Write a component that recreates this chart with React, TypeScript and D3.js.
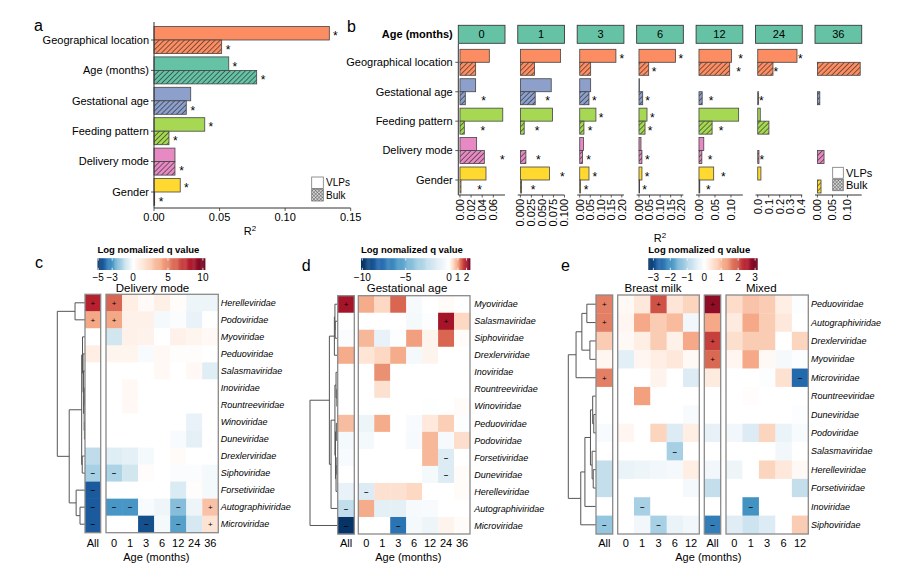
import React from "react";
import * as d3 from "d3";

const FONT = "'Liberation Sans', Arial, Helvetica, sans-serif";

// ---------------- Panel a data ----------------
const factorsA = ["Geographical location", "Age (months)", "Gestational age", "Feeding pattern", "Delivery mode", "Gender"];
const colorsA = ["#FC8D62", "#66C2A5", "#8DA0CB", "#A6D854", "#E78AC3", "#FFD92F"];
const aVLP = [0.1337, 0.057, 0.028, 0.0387, 0.016, 0.02];
const aBulk = [0.0516, 0.0783, 0.0246, 0.0114, 0.016, 0.0005];
const aStarVLP = [true, true, false, true, false, true];
const aStarBulk = [true, true, true, true, true, true];
const aTicks = [0, 0.05, 0.1, 0.15];

// ---------------- Panel b data ----------------
const factorsB = ["Geographical location", "Gestational age", "Feeding pattern", "Delivery mode", "Gender"];
const colorsB = ["#FC8D62", "#8DA0CB", "#A6D854", "#E78AC3", "#FFD92F"];
const ageFacets = ["0", "1", "3", "6", "12", "24", "36"];
const bVLP: (number | null)[][] = [
  [0.0528, 0.0282, 0.077, 0.03, 0.0468],
  [0.0913, 0.07, 0.073, null, 0.066],
  [0.172, 0.052, 0.077, 0.018, 0.044],
  [0.173, 0.002, 0.038, 0.0095, 0.014],
  [0.1016, null, 0.124, 0.015, 0.046],
  [0.358, null, 0.023, null, 0.029],
  [null, null, null, null, null],
];
const bBulk: (number | null)[][] = [
  [0.0282, 0.0096, 0.0078, 0.0438, 0.0018],
  [0.032, 0.0336, 0.0086, 0.0125, 0.0027],
  [0.052, 0.044, 0.02, 0.0135, 0.004],
  [0.046, 0.0176, 0.0286, 0.014, 0.003],
  [0.096, 0.01, 0.041, 0.009, 0.0025],
  [0.139, 0.008, 0.102, 0.011, null],
  [0.142, 0.008, null, 0.022, 0.012],
];
const bStarVLP: (number | null)[][] = [
  [null, null, null, null, null],
  [null, null, null, null, 0.095],
  [0.2, null, 0.101, null, 0.072],
  [0.198, null, 0.063, null, 0.038],
  [0.13, null, null, null, 0.076],
  [0.388, null, null, null, null],
  [null, null, null, null, null],
];
const bStarBulk: (number | null)[][] = [
  [null, 0.0427, 0.041, 0.0762, 0.0355],
  [null, 0.062, 0.038, 0.041, 0.029],
  [null, 0.069, 0.049, 0.042, 0.03],
  [0.071, 0.041, 0.052, 0.04, 0.027],
  [0.124, 0.038, 0.069, 0.035, 0.029],
  [0.166, 0.032, null, 0.038, null],
  [null, null, null, null, null],
];
const bDomains: [number, number][] = [
  [-0.003, 0.081], [-0.006, 0.1], [-0.012, 0.21], [-0.011, 0.21], [-0.009, 0.137], [-0.02, 0.406], [-0.008, 0.147],
];
const bTicks = [
  [0, 0.02, 0.04, 0.06], [0, 0.025, 0.05, 0.075, 0.1], [0, 0.05, 0.1, 0.15, 0.2], [0, 0.05, 0.1, 0.15, 0.2],
  [0, 0.05, 0.1], [0, 0.1, 0.2, 0.3, 0.4], [0, 0.05, 0.1],
];
const bTickDigits = [2, 3, 2, 2, 2, 1, 2];

// ---------------- Panel c data ----------------
const ageCols7 = ["0", "1", "3", "6", "12", "24", "36"];
const cRows = ["Herelleviridae", "Podoviridae", "Myoviridae", "Peduoviridae", "Salasmaviridae", "Inoviridae", "Rountreeviridae", "Winoviridae", "Duneviridae", "Drexlerviridae", "Siphoviridae", "Forsetiviridae", "Autographiviridae", "Microviridae"];
const cAll = [8, 4, 0, 1.0, 0, 0, 0, 0, 0, -1.3, -1.7, -4.3, -4.3, -4.3];
const cAge = [
  [6, 1.0, 0.3, 0.9, 0.2, -0.4, -0.4],
  [4, 0.8, 0.8, -0.25, -0.1, -0.5, 0],
  [-1.0, 0.8, 0.7, 0, 0.8, 0.6, 0.4],
  [0.6, 0.6, -0.15, 0.4, 0.1, 0.1, 0],
  [0, 0, 0, 0.4, 0, 0.4, -0.7],
  [0, 0.4, 0, 0, 0, 0, 0],
  [0, 0.4, 0, 0, 0, 0, 0],
  [0, 0, 0, 0, 0, -0.5, 0],
  [0, 0, 0, 0, -0.15, -0.6, 0],
  [-0.7, -0.6, -0.25, 0, 0.25, 0, 0],
  [-1.6, -1.0, 0.15, 0, -0.1, -0.1, -0.25],
  [0, 0, 0, 0, -0.8, 0.1, -0.25],
  [-3.0, -3.0, -0.15, -0.35, -2.2, -0.4, 3.0],
  [0, 0, -4.5, -0.25, -2.8, -0.9, 1.6],
];
const cSig = ["++......", "++......", "........", "........", "........", "........", "........", "........", "........", "........", "--......", "-.......", "---..-.+", "-..-.-.+"];

// ---------------- Panel d data ----------------
const dRows = ["Myoviridae", "Salasmaviridae", "Siphoviridae", "Drexlerviridae", "Inoviridae", "Rountreeviridae", "Winoviridae", "Peduoviridae", "Podoviridae", "Forsetiviridae", "Duneviridae", "Herelleviridae", "Autographiviridae", "Microviridae"];
const dAll = [2.0, 0, -0.2, 0.9, 0, 0, 0, 0.75, -0.5, -0.3, 0, -1.0, -2.5, -10.0];
const dAge = [
  [0.9, 0.5, 1.4, -0.4, 0, 0.05, 0],
  [0, 0, 0, -0.5, -0.15, 2.0, 0.5],
  [0.8, -1.0, -0.15, 1.0, 0.15, 1.4, 0.05],
  [0.35, 0.5, 0.9, -0.5, 0.15, 0, 0],
  [0, 1.1, 0, 0, 0, 0, 0],
  [0, 0.4, 0, 0, 0, 0, 0],
  [0, 0, 0, 0, -0.1, 0, 0.05],
  [-0.8, 0.9, 0, -0.3, 0.3, 0.6, -0.15],
  [-0.5, 0, 0, -0.4, 0.8, -0.4, 0.45],
  [0, 0, 0, 0, 0.8, -1.5, 0],
  [0, 0, 0, 0, -0.5, -1.5, 0.05],
  [-1.5, 0.4, 0.4, 0.5, 0, 0, 0.05],
  [0.9, -1.2, -1.2, -0.4, -0.3, 0, 0],
  [0, 0, -7.5, -0.5, -0.8, 0.15, 0.05],
];
const dSig = ["+.......", "......+.", "........", "........", "........", "........", "........", "........", "........", "......-.", "......-.", ".-......", "-.......", "-..-...."];

// ---------------- Panel e data ----------------
const ageCols5 = ["0", "1", "3", "6", "12"];
const eRows = ["Peduoviridae", "Autographiviridae", "Drexlerviridae", "Myoviridae", "Microviridae", "Rountreeviridae", "Duneviridae", "Podoviridae", "Salasmaviridae", "Herelleviridae", "Forsetiviridae", "Inoviridae", "Siphoviridae"];
const eAllBM = [1.6, 1.6, 0.8, 0.15, 1.6, 0, 0, -0.1, 0, -0.8, -0.8, 0, -1.3];
const eBM = [
  [0.1, 0.4, 2.0, 0.45, 0.7],
  [0.15, 1.2, 0.8, 1.0, -0.2],
  [0.1, 0.3, 0.8, 0.25, 1.2],
  [-0.4, 0.15, 0.3, 0.4, 0.1],
  [0, 0, 0.2, 0, -0.5],
  [0, 1.3, 0, 0, 0],
  [0, 0, 0, 0, -0.1],
  [0.15, 0, 0.7, -0.5, 0.3],
  [0, 0, 0, -1.1, 0],
  [-0.3, -0.25, -0.2, -0.15, 0.3],
  [0, 0, 0, 0, -0.15],
  [0, -1.1, 0, 0, 0],
  [0, -0.2, -1.1, -0.3, -0.2],
];
const eAllMix = [2.8, 1.2, 2.15, 1.8, 0.35, 0, 0, -0.35, 0, -0.2, -0.8, 0, -2.3];
const eMix = [
  [0.6, 0.9, 0.8, 0.3, -0.05],
  [0.35, 1.2, 0.8, 0.4, 0],
  [0.55, 0.8, 0.8, 0, 0.7],
  [0.15, 1.2, 0.1, -0.15, -0.05],
  [0, 0, -0.05, 0.5, -2.6],
  [0, 0.05, 0, 0, 0],
  [0, 0, 0, 0, -0.05],
  [-0.2, -0.5, 0.7, -0.3, -0.1],
  [0, 0, 0, -0.2, 0],
  [-0.25, 0, 0.7, 0.4, 0.1],
  [0, 0, 0, 0, -0.8],
  [0, -2.0, 0, 0, 0],
  [-0.45, -0.7, -0.5, 0, 0.8],
];
const eSig = ["+..+..+.....", "+...........", "......+.....", "......+.....", "+..........-", "............", "............", "............", "....-.......", "............", "............", "..-.....-...", "-..-..-....."];

// ---------------- Dendrograms ----------------
type Tree = number | { h: number; c: Tree[] };
const cTree: Tree = {
  h: 1, c: [
    { h: 0.36, c: [0, 1] },
    { h: 0.57, c: [
      { h: 0.12, c: [
        { h: 0.09, c: [2, { h: 0.07, c: [3, { h: 0.05, c: [4, { h: 0.03, c: [{ h: 0.02, c: [5, 6] }, { h: 0.02, c: [7, 8] }] }] }] }] },
        { h: 0.1, c: [9, 10] },
      ] },
      { h: 0.32, c: [11, { h: 0.18, c: [12, 13] }] },
    ] },
  ],
};
const dTree: Tree = {
  h: 1, c: [
    { h: 0.3, c: [
      { h: 0.12, c: [{ h: 0.1, c: [0, { h: 0.09, c: [1, 2] }] }, 3] },
      { h: 0.24, c: [
        { h: 0.1, c: [
          { h: 0.06, c: [4, { h: 0.03, c: [5, 6] }] },
          { h: 0.08, c: [{ h: 0.05, c: [7, 8] }, { h: 0.06, c: [{ h: 0.03, c: [9, 10] }, 11] }] },
        ] },
        12,
      ] },
    ] },
    13,
  ],
};
const eTree: Tree = {
  h: 1, c: [
    { h: 0.72, c: [{ h: 0.51, c: [{ h: 0.33, c: [0, 1] }, { h: 0.22, c: [2, 3] }] }, 4] },
    { h: 0.55, c: [
      { h: 0.4, c: [
        { h: 0.2, c: [{ h: 0.12, c: [5, { h: 0.08, c: [6, 7] }] }, { h: 0.14, c: [8, { h: 0.1, c: [9, 10] }] }] },
        11,
      ] },
      12,
    ] },
  ],
};

// ---------------- Colours ----------------
const HEAT_STOPS = ["#053061", "#2166ac", "#4393c3", "#92c5de", "#d1e5f0", "#ffffff", "#fddbc7", "#f4a582", "#d6604d", "#b2182b", "#67001f"];
const heatInterp = d3.scaleLinear<string>().domain(d3.range(11).map((i) => i / 10)).range(HEAT_STOPS).interpolate(d3.interpolateRgb).clamp(true);
function makeColor(min: number, max: number) {
  return d3.scaleDiverging<string>((t: number) => heatInterp(t)).domain([min, 0, max]).clamp(true);
}

function dendroSegments(tree: Tree, yOf: (i: number) => number, xOf: (h: number) => number) {
  const segs: [number, number, number, number][] = [];
  function walk(t: Tree): { y: number; h: number } {
    if (typeof t === "number") return { y: yOf(t), h: 0 };
    const kids = t.c.map(walk);
    const x = xOf(t.h);
    const ys = kids.map((k) => k.y);
    segs.push([x, Math.min(...ys), x, Math.max(...ys)]);
    kids.forEach((k) => segs.push([x, k.y, xOf(k.h), k.y]));
    return { y: d3.mean(ys) as number, h: t.h };
  }
  walk(tree);
  return segs;
}

const minus = (t: number) => (t < 0 ? "\u2212" + -t : String(t));

function ColorBar({ x0, x1, dom, ticks, color }: { x0: number; x1: number; dom: [number, number]; ticks: number[]; color: (v: number) => string }) {
  const y0 = 258.3, y1 = 270;
  const pos = d3.scaleLinear().domain(dom).range([x0, x1]);
  const n = 120;
  const w = (x1 - x0) / n;
  return (
    <g>
      <text x={x0} y={252.5} fontSize={9.5} fontWeight="bold">Log nomalized q value</text>
      {d3.range(n).map((i) => (
        <rect key={i} x={x0 + i * w} y={y0} width={w + 0.4} height={y1 - y0} fill={color(pos.invert(x0 + (i + 0.5) * w))} />
      ))}
      {ticks.map((t) => (
        <g key={t}>
          <line x1={pos(t)} x2={pos(t)} y1={y0} y2={y0 + 2.2} stroke="#fff" strokeWidth={0.8} />
          <line x1={pos(t)} x2={pos(t)} y1={y1 - 2.2} y2={y1} stroke="#fff" strokeWidth={0.8} />
          <text x={pos(t)} y={280.5} textAnchor="middle" fontSize={10}>{minus(t)}</text>
        </g>
      ))}
    </g>
  );
}

type Block = { x0: number; x1: number; cols: string[]; vals: number[][]; sigOff: number };

function Heatmap({ rows, top, bottom, blocks, sig, color, labelX, tree, dxL, dxR }: {
  rows: string[]; top: number; bottom: number; blocks: Block[]; sig: string[]; color: (v: number) => string;
  labelX: number; tree: Tree; dxL: number; dxR: number;
}) {
  const y = d3.scaleBand().domain(rows.map((_, i) => String(i))).range([top, bottom]);
  const yc = (i: number) => (y(String(i)) as number) + y.bandwidth() / 2;
  const hx = d3.scaleLinear().domain([0, 1]).range([dxR, dxL]);
  const segs = dendroSegments(tree, yc, hx);
  return (
    <g>
      {segs.map((s, i) => (
        <line key={i} x1={s[0]} y1={s[1]} x2={s[2]} y2={s[3]} stroke="#555" strokeWidth={1} />
      ))}
      {blocks.map((b, bi) => {
        const x = d3.scaleBand().domain(b.cols).range([b.x0, b.x1]);
        return (
          <g key={bi}>
            {rows.map((r, ri) =>
              b.cols.map((c, ci) => {
                const v = b.vals[ri][ci];
                const s = sig[ri][b.sigOff + ci];
                const cx = (x(c) as number) + x.bandwidth() / 2;
                return (
                  <g key={r + c}>
                    <rect x={x(c)} y={y(String(ri))} width={x.bandwidth() + 0.3} height={y.bandwidth() + 0.3} fill={color(v)} />
                    {s === "+" && <text x={cx} y={yc(ri) + 2.8} textAnchor="middle" fontSize={8}>+</text>}
                    {s === "-" && <text x={cx} y={yc(ri) + 2.3} textAnchor="middle" fontSize={8} fontWeight="bold">{"\u2013"}</text>}
                  </g>
                );
              })
            )}
            <rect x={b.x0} y={top} width={b.x1 - b.x0} height={bottom - top} fill="none" stroke="#8a8a8a" strokeWidth={1.3} />
            {b.cols.map((c) => (
              <text key={c} x={(x(c) as number) + x.bandwidth() / 2} y={546.5} textAnchor="middle" fontSize={11}>{c}</text>
            ))}
          </g>
        );
      })}
      {rows.map((r, i) => (
        <text key={r} x={labelX} y={yc(i)} dy="0.35em" fontSize={9} fontStyle="italic">{r}</text>
      ))}
    </g>
  );
}

function PanelA() {
  const x = d3.scaleLinear().domain([0, 0.15]).range([154, 350.7]);
  const y = d3.scalePoint().domain(factorsA).range([40, 192]);
  const bh = 13.5;
  return (
    <g>
      <text x={34} y={31} fontSize={16}>a</text>
      {factorsA.map((f, i) => {
        const yc = y(f) as number;
        return (
          <g key={f}>
            <rect x={x(0)} y={yc - bh} width={x(aVLP[i]) - x(0)} height={bh} fill={colorsA[i]} stroke="#444" strokeWidth={0.8} />
            <rect x={x(0)} y={yc} width={x(aBulk[i]) - x(0)} height={bh} fill={colorsA[i]} />
            <rect x={x(0)} y={yc} width={x(aBulk[i]) - x(0)} height={bh} fill="url(#hatch)" stroke="#444" strokeWidth={0.8} />
            {aStarVLP[i] && <text x={x(aVLP[i]) + 6} y={yc - bh / 2 + 7} textAnchor="middle" fontSize={12}>*</text>}
            {aStarBulk[i] && <text x={x(aBulk[i]) + 6.5} y={yc + bh / 2 + 7} textAnchor="middle" fontSize={12}>*</text>}
            <line x1={151} x2={154} y1={yc} y2={yc} stroke="#333" strokeWidth={0.8} />
            <text x={149} y={yc} dy="0.35em" textAnchor="end" fontSize={11}>{f}</text>
          </g>
        );
      })}
      <line x1={154} x2={154} y1={22} y2={208} stroke="#333" strokeWidth={1} />
      <line x1={154} x2={350.7} y1={208} y2={208} stroke="#333" strokeWidth={1} />
      {aTicks.map((t) => (
        <g key={t}>
          <line x1={x(t)} x2={x(t)} y1={208} y2={211} stroke="#333" strokeWidth={0.8} />
          <text x={x(t)} y={217} dy="0.35em" textAnchor="middle" fontSize={11}>{t.toFixed(2)}</text>
        </g>
      ))}
      <text x={250} y={231} dy="0.35em" textAnchor="middle" fontSize={11}>R<tspan dy={-4} fontSize={8}>2</tspan></text>
      <rect x={311.7} y={177} width={11.6} height={11.5} fill="#fff" stroke="#777" strokeWidth={0.8} />
      <rect x={311.7} y={189} width={11.6} height={12} fill="url(#cross)" stroke="#777" strokeWidth={0.8} />
      <text x={326} y={182.7} dy="0.35em" fontSize={10}>VLPs</text>
      <text x={326} y={195} dy="0.35em" fontSize={10}>Bulk</text>
    </g>
  );
}

function PanelB() {
  const fx = d3.scaleBand().domain(ageFacets).range([458.3, 861.7]).paddingInner(0.2145).paddingOuter(0);
  const y = d3.scalePoint().domain(factorsB).range([62.3, 180]);
  const bh = 13;
  const axisY = 195;
  return (
    <g>
      <text x={347} y={31.5} fontSize={16}>b</text>
      <text x={452.7} y={34.3} dy="0.35em" textAnchor="end" fontSize={11} fontWeight="bold">Age (months)</text>
      {factorsB.map((f) => (
        <g key={f}>
          <line x1={455.3} x2={458.3} y1={y(f)} y2={y(f)} stroke="#333" strokeWidth={0.8} />
          <text x={452.7} y={y(f)} dy="0.35em" textAnchor="end" fontSize={11}>{f}</text>
        </g>
      ))}
      <line x1={458.3} x2={458.3} y1={44} y2={axisY} stroke="#333" strokeWidth={1} />
      {ageFacets.map((a, fi) => {
        const x0 = fx(a) as number;
        const x1 = x0 + fx.bandwidth();
        const x = d3.scaleLinear().domain(bDomains[fi]).range([x0, x1]);
        return (
          <g key={a}>
            <rect x={x0} y={25.3} width={x1 - x0} height={18} fill="#66C2A5" stroke="#3a3a3a" strokeWidth={0.9} />
            <text x={(x0 + x1) / 2} y={34.3} dy="0.35em" textAnchor="middle" fontSize={11}>{a}</text>
            {factorsB.map((f, ri) => {
              const yc = y(f) as number;
              const v = bVLP[fi][ri];
              const b = bBulk[fi][ri];
              const sv = bStarVLP[fi][ri];
              const sb = bStarBulk[fi][ri];
              return (
                <g key={f}>
                  {v !== null && <rect x={x(0)} y={yc - bh} width={x(v) - x(0)} height={bh} fill={colorsB[ri]} stroke="#444" strokeWidth={0.8} />}
                  {b !== null && <rect x={x(0)} y={yc} width={x(b) - x(0)} height={bh} fill={colorsB[ri]} />}
                  {b !== null && <rect x={x(0)} y={yc} width={x(b) - x(0)} height={bh} fill="url(#hatch)" stroke="#444" strokeWidth={0.8} />}
                  {sv !== null && <text x={x(sv)} y={yc - bh / 2 + 7} textAnchor="middle" fontSize={12}>*</text>}
                  {sb !== null && <text x={x(sb)} y={yc + bh / 2 + 7} textAnchor="middle" fontSize={12}>*</text>}
                </g>
              );
            })}
            <line x1={x0} x2={x1} y1={axisY} y2={axisY} stroke="#333" strokeWidth={1} />
            {bTicks[fi].map((t) => (
              <g key={t}>
                <line x1={x(t)} x2={x(t)} y1={axisY} y2={axisY + 2.5} stroke="#333" strokeWidth={0.8} />
                <text transform={`translate(${x(t)},${axisY + 4}) rotate(-90)`} dy="0.35em" textAnchor="end" fontSize={11}>{t.toFixed(bTickDigits[fi])}</text>
              </g>
            ))}
          </g>
        );
      })}
      <text x={660} y={238} dy="0.35em" textAnchor="middle" fontSize={11}>R<tspan dy={-4} fontSize={8}>2</tspan></text>
      <rect x={832.7} y={167.3} width={10.6} height={11} fill="#fff" stroke="#777" strokeWidth={0.8} />
      <rect x={832.7} y={179.3} width={10.6} height={11.4} fill="url(#cross)" stroke="#777" strokeWidth={0.8} />
      <text x={846} y={172.8} dy="0.35em" fontSize={11}>VLPs</text>
      <text x={846} y={185} dy="0.35em" fontSize={11}>Bulk</text>
    </g>
  );
}

function PanelC() {
  const color = makeColor(-5.1, 10.3);
  return (
    <g>
      <text x={35} y={268} fontSize={16}>c</text>
      <ColorBar x0={97.5} x1={205} dom={[-5.1, 10.3]} ticks={[-5, -3, 0, 5, 10]} color={color} />
      <text x={152.5} y={288.3} dy="0.35em" textAnchor="middle" fontSize={11.5}>Delivery mode</text>
      <Heatmap rows={cRows} top={294.3} bottom={532.7} color={color} sig={cSig} labelX={220.7} tree={cTree} dxL={57.3} dxR={85}
        blocks={[
          { x0: 85, x1: 100.7, cols: ["All"], vals: cAll.map((v) => [v]), sigOff: 0 },
          { x0: 106, x1: 218.3, cols: ageCols7, vals: cAge, sigOff: 1 },
        ]} />
      <text x={156.3} y={557.5} dy="0.35em" textAnchor="middle" fontSize={11}>Age (months)</text>
    </g>
  );
}

function PanelD() {
  const color = makeColor(-10.15, 2.4);
  return (
    <g>
      <text x={301.7} y={270.5} fontSize={16}>d</text>
      <ColorBar x0={361} x1={470} dom={[-10.15, 2.4]} ticks={[-10, -5, 0, 1, 2]} color={color} />
      <text x={407} y={287.7} dy="0.35em" textAnchor="middle" fontSize={11.5}>Gestational age</text>
      <Heatmap rows={dRows} top={295.7} bottom={534} color={color} sig={dSig} labelX={474.3} tree={dTree} dxL={310} dxR={337.7}
        blocks={[
          { x0: 337.7, x1: 354.3, cols: ["All"], vals: dAll.map((v) => [v]), sigOff: 0 },
          { x0: 358.3, x1: 470, cols: ageCols7, vals: dAge, sigOff: 1 },
        ]} />
      <text x={408.3} y={557.5} dy="0.35em" textAnchor="middle" fontSize={11}>Age (months)</text>
    </g>
  );
}

function PanelE() {
  const color = makeColor(-3.3, 3.13);
  return (
    <g>
      <text x={561} y={270.5} fontSize={16}>e</text>
      <ColorBar x0={648.3} x1={757.3} dom={[-3.3, 3.13]} ticks={[-3, -2, -1, 0, 1, 2, 3]} color={color} />
      <text x={653} y={287.7} dy="0.35em" textAnchor="middle" fontSize={11.5}>Breast milk</text>
      <text x={761.3} y={287.7} dy="0.35em" textAnchor="middle" fontSize={11.5}>Mixed</text>
      <Heatmap rows={eRows} top={295} bottom={534} color={color} sig={eSig} labelX={811} tree={eTree} dxL={568.3} dxR={596}
        blocks={[
          { x0: 596, x1: 612.7, cols: ["All"], vals: eAllBM.map((v) => [v]), sigOff: 0 },
          { x0: 617.7, x1: 699.3, cols: ageCols5, vals: eBM, sigOff: 1 },
          { x0: 704.3, x1: 720.7, cols: ["All"], vals: eAllMix.map((v) => [v]), sigOff: 6 },
          { x0: 726, x1: 808.3, cols: ageCols5, vals: eMix, sigOff: 7 },
        ]} />
      <text x={708.3} y={557.5} dy="0.35em" textAnchor="middle" fontSize={11}>Age (months)</text>
    </g>
  );
}

export default function App() {
  return (
    <svg width={917} height={577} style={{ position: "absolute", left: 0, top: 0, background: "#fff" }} fontFamily={FONT}>
      <defs>
        <pattern id="hatch" patternUnits="userSpaceOnUse" width={3.6} height={3.6} patternTransform="rotate(45)">
          <line x1={0} y1={0} x2={0} y2={3.6} stroke="#1a1a1a" strokeWidth={1.1} />
        </pattern>
        <pattern id="cross" patternUnits="userSpaceOnUse" width={2.4} height={2.4} patternTransform="rotate(45)">
          <rect width={2.4} height={2.4} fill="#d8d8d8" />
          <line x1={0} y1={0} x2={0} y2={2.4} stroke="#444" strokeWidth={0.8} />
          <line x1={0} y1={0} x2={2.4} y2={0} stroke="#444" strokeWidth={0.8} />
        </pattern>
      </defs>
      <rect width={917} height={577} fill="#fff" />
      <PanelA />
      <PanelB />
      <PanelC />
      <PanelD />
      <PanelE />
    </svg>
  );
}
